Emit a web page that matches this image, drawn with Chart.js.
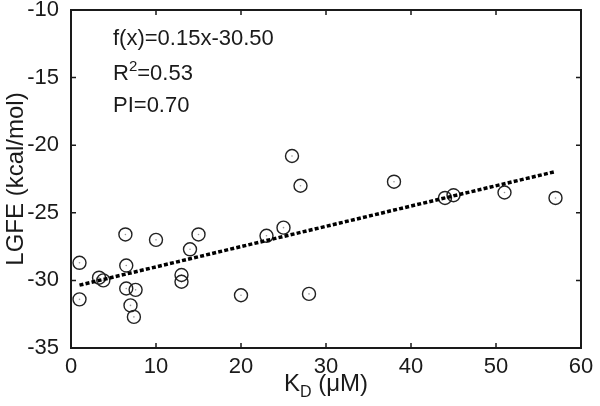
<!DOCTYPE html>
<html>
<head>
<meta charset="utf-8">
<script src="https://cdn.jsdelivr.net/npm/chart.js@4.4.1/dist/chart.umd.min.js"></script>
<style>
  html, body { margin: 0; padding: 0; background: #fff; }
  #wrap { width: 600px; height: 406px; }
</style>
</head>
<body>
<div id="wrap"><canvas id="lgfeChart" width="600" height="406"></canvas></div>
<script>
// K_D (uM) vs LGFE (kcal/mol)
const kdValues   = [1, 1, 3.3, 3.8, 6.4, 6.5, 6.5, 7.6, 7.0, 7.4, 10, 13, 13, 14, 15, 20, 23, 25, 26, 27, 28, 38, 44, 45, 51, 57];
const lgfeValues = [-28.7, -31.4, -29.8, -30.0, -26.6, -28.9, -30.6, -30.7, -31.85, -32.7, -27.0, -29.6, -30.1, -27.7, -26.6, -31.1, -26.7, -26.1, -20.8, -23.0, -31.0, -22.7, -23.9, -23.7, -23.5, -23.9];

// fitted line end points
const fitX = [1, 57];
const fitY = [-30.35, -21.95];

const xTickLabels = ['0', '10', '20', '30', '40', '50', '60'];
const yTickLabels = ['-35', '-30', '-25', '-20', '-15', '-10'];
const annotationLines = ['f(x)=0.15x-30.50', 'R|2|=0.53', 'PI=0.70'];

const FONT = "'Liberation Sans', Arial, Helvetica, sans-serif";
const INK = '#1a1a1a';

const points = kdValues.map((x, i) => ({ x, y: lgfeValues[i] }));
const fitPoints = fitX.map((x, i) => ({ x, y: fitY[i] }));

// frame, inward ticks, annotation and x title (needs a subscript)
const frameAndText = {
    id: 'frameAndText',
    afterDraw(chart) {
        const { ctx, chartArea: a, scales: { x, y } } = chart;
        ctx.save();
        ctx.strokeStyle = INK;
        ctx.lineWidth = 2;
        ctx.strokeRect(a.left, a.top, a.right - a.left, a.bottom - a.top);

        ctx.lineWidth = 1.5;
        ctx.beginPath();
        x.ticks.forEach(t => {
            const px = x.getPixelForValue(t.value);
            ctx.moveTo(px, a.bottom); ctx.lineTo(px, a.bottom - 5);
            ctx.moveTo(px, a.top); ctx.lineTo(px, a.top + 5);
        });
        y.ticks.forEach(t => {
            const py = y.getPixelForValue(t.value);
            ctx.moveTo(a.left, py); ctx.lineTo(a.left + 5, py);
            ctx.moveTo(a.right, py); ctx.lineTo(a.right - 5, py);
        });
        ctx.stroke();

        // annotation block, top left
        ctx.fillStyle = INK;
        ctx.textBaseline = 'alphabetic';
        ctx.textAlign = 'left';
        const baselines = [35, 70, 102];
        annotationLines.forEach((line, i) => {
            let cx = a.left + 42;
            const by = a.top + baselines[i];
            line.split('|').forEach((part, j) => {
                if (j === 1) {
                    ctx.font = `15px ${FONT}`;
                    ctx.fillText(part, cx, by - 9);
                } else {
                    ctx.font = `22px ${FONT}`;
                    ctx.fillText(part, cx, by);
                }
                cx += ctx.measureText(part).width;
            });
        });

        // x axis title: K_D (uM)
        const parts = [['K', 24, 0], ['D', 16, 6], [' (\u03bcM)', 24, 0]];
        let total = 0;
        parts.forEach(([s, size]) => { ctx.font = `${size}px ${FONT}`; total += ctx.measureText(s).width; });
        let tx = (a.left + a.right) / 2 - total / 2;
        const ty = 391;
        parts.forEach(([s, size, dy]) => {
            ctx.font = `${size}px ${FONT}`;
            ctx.fillText(s, tx, ty + dy);
            tx += ctx.measureText(s).width;
        });
        ctx.restore();
    }
};

new Chart(document.getElementById('lgfeChart'), {
    type: 'scatter',
    data: {
        datasets: [
            {
                label: 'fit',
                type: 'line',
                data: fitPoints,
                borderColor: '#000',
                borderWidth: 3.5,
                borderDash: [4, 2.2],
                pointRadius: 0,
                fill: false,
                order: 0
            },
            {
                label: 'LGFE',
                data: points,
                pointStyle: 'circle',
                pointRadius: 6.5,
                borderWidth: 1.4,
                borderColor: '#222',
                backgroundColor: 'rgba(0,0,0,0)',
                order: 1
            },
            {
                label: 'centre',
                data: points,
                pointRadius: 0.8,
                borderWidth: 0,
                backgroundColor: '#999',
                order: 2
            }
        ]
    },
    options: {
        responsive: false,
        animation: false,
        layout: { padding: { top: 10, right: 19, left: 0, bottom: 0 } },
        plugins: { legend: { display: false }, tooltip: { enabled: false } },
        scales: {
            x: {
                type: 'linear',
                min: 0, max: 60,
                afterFit: s => { s.height = 58; s.paddingLeft = 0; s.paddingRight = 0; },
                grid: { display: false, drawTicks: false },
                border: { display: false },
                ticks: {
                    stepSize: 10,
                    padding: 8,
                    color: INK,
                    font: { family: FONT, size: 22, lineHeight: 1 },
                    callback: (v, i) => xTickLabels[i]
                }
            },
            y: {
                type: 'linear',
                min: -35, max: -10,
                afterFit: s => { s.width = 71; s.paddingTop = 0; s.paddingBottom = 0; },
                grid: { display: false, drawTicks: false },
                border: { display: false },
                title: {
                    display: true,
                    text: 'LGFE (kcal/mol)',
                    color: INK,
                    font: { family: FONT, size: 24, lineHeight: 1 },
                    padding: { top: 4, bottom: 0 }
                },
                ticks: {
                    stepSize: 5,
                    padding: 12,
                    color: INK,
                    font: { family: FONT, size: 22, lineHeight: 0.9 },
                    callback: (v, i) => yTickLabels[i]
                }
            }
        }
    },
    plugins: [frameAndText]
});
</script>
</body>
</html>
